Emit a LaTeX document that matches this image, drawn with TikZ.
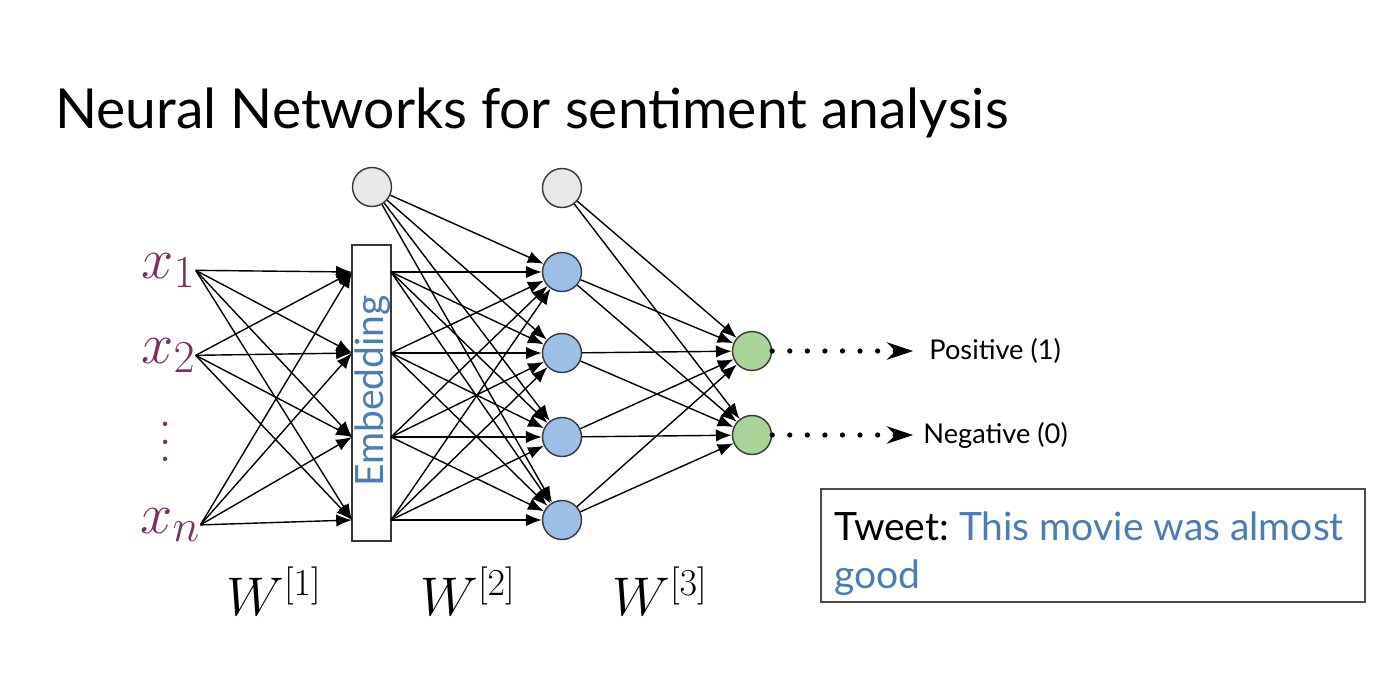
\RequirePackage{fix-cm}
\documentclass[tikz,border=0pt]{standalone}
\usepackage[no-math]{fontspec}
\setmainfont{Lato}
\usetikzlibrary{arrows.meta}
\definecolor{xcol}{RGB}{122,48,96}
\definecolor{tblue}{RGB}{74,125,180}
\definecolor{nblue}{RGB}{155,191,230}
\definecolor{ngreen}{RGB}{168,212,152}
\definecolor{ngray}{RGB}{232,232,232}
\definecolor{border}{RGB}{55,55,55}
\newcommand{\bigsub}[1]{\mbox{\fontsize{26}{30}\selectfont$#1$}}
\begin{document}
\frenchspacing
\begin{tikzpicture}[x=0.02cm,y=-0.02cm,
  neuron/.style={circle,draw=border,line width=0.8pt,minimum size=0.78cm,inner sep=0pt},
  edge/.style={line width=0.8pt},
  arr/.style={edge,-{Latex[length=9pt,width=7pt]}},
  dotarr/.style={line width=3pt,line cap=round,dash pattern=on 0pt off 10pt,
    -{Stealth[length=15pt,width=10pt,inset=5pt,line width=0.4pt]}},
  xin/.style={inner sep=0pt,anchor=base west,text=xcol,font=\fontsize{32.9}{38}\selectfont},
  wlab/.style={inner sep=0pt,anchor=base west,font=\fontsize{31}{36}\selectfont},
  outlab/.style={inner sep=0pt,anchor=base west,font=\fontsize{15.5}{18}\selectfont},
  tweet/.style={inner sep=0pt,anchor=base west,font=\fontsize{22.2}{26}\selectfont}]
\useasboundingbox (0,0) rectangle (1394,698);

% title
\node[inner sep=0pt,anchor=base west,font=\fontsize{31.4}{38}\selectfont] (title) at (55,128) {Neural Networks for sentiment analysis};

% inputs
\node[xin] (x1) at (141,278) {$x_{\bigsub{1}}$};
\node[xin] (x2) at (141,363) {$x_{\bigsub{2}}$};
\node[inner sep=0pt,text=xcol,rotate=90,font=\fontsize{20}{24}\selectfont] (xd) at (166,442) {.\hspace{5.2pt}.\hspace{5.2pt}.};
\node[xin] (xn) at (140,533) {$x_{\bigsub{n}}$};

% embedding
\node[draw=border,line width=0.8pt,minimum width=0.78cm,minimum height=5.92cm,inner sep=0pt] (emb) at (371.5,393) {};
\node[rotate=90,text=tblue,inner sep=0pt,font=\fontsize{22.2}{26}\selectfont] (embl) at (373,391) {Embedding};
\node[neuron,fill=ngray] (b1) at (372,187) {};

\foreach \i/\y in {1/272,2/353,3/437,4/520}{
  \coordinate (ei\i) at (352,\y);
  \coordinate (eo\i) at (391,\y);
  \node[neuron,fill=nblue] (h\i) at (562,\y) {};
}
\node[neuron,fill=ngray] (b2) at (562,188) {};
\node[neuron,fill=ngreen] (o1) at (752,351) {};
\node[neuron,fill=ngreen] (o2) at (752,435) {};

% edges
\foreach \s in {x1,x2,xn}
  \foreach \t in {1,...,4}
    \draw[arr] (\s.east) -- (ei\t);
\foreach \s in {1,...,4}
  \foreach \t in {1,...,4}
    \draw[arr] (eo\s) -- (h\t);
\foreach \t in {1,...,4}
  \draw[arr] (b1) -- (h\t);
\foreach \s in {h1,h2,h3,h4,b2}
  \foreach \t in {o1,o2}
    \draw[arr] (\s) -- (\t);

% outputs
\coordinate (a1) at (913,351);
\coordinate (a2) at (913,435);
\draw[dotarr] (o1.east) -- (a1);
\draw[dotarr] (o2.east) -- (a2);
\node[outlab] (pos) at (929,359) {Positive (1)};
\node[outlab] (neg) at (923,443) {Negative (0)};

% weights
\node[wlab] (w1) at (226,615) {$W^{[1]}$};
\node[wlab] (w2) at (420,615) {$W^{[2]}$};
\node[wlab] (w3) at (612,615) {$W^{[3]}$};

% tweet box
\node[draw=black!70,line width=1pt,minimum width=10.88cm,minimum height=2.26cm,inner sep=0pt,anchor=north west] (tw) at (820,488) {};
\node[tweet] (tw1) at (834,540) {Tweet: \textcolor{tblue}{This movie was almost}};
\node[tweet] (tw2) at (834,588) {\textcolor{tblue}{good}};
\end{tikzpicture}
\end{document}
